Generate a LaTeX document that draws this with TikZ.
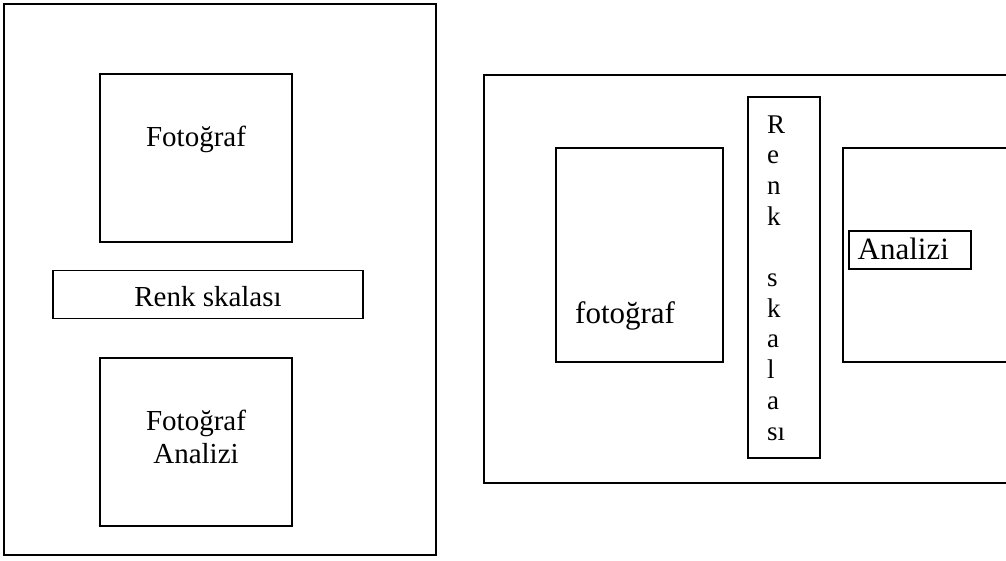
\documentclass[tikz,border=0pt]{standalone}
\usepackage{fontspec}
\setmainfont{Liberation Serif}
\begin{document}
\begin{tikzpicture}[x=1pt,y=-1pt,
  outerbox/.style={draw=black,line width=2.6pt,inner sep=0pt,outer sep=0pt},
  innerbox/.style={draw=black,line width=1.6pt,inner sep=0pt,outer sep=0pt},
  lbl/.style={inner sep=0pt,font=\fontsize{29}{33}\selectfont},
  rlbl/.style={inner sep=0pt,font=\fontsize{31}{36}\selectfont},
  vl/.style={inner sep=0pt,anchor=base west,font=\fontsize{27}{31}\selectfont}]
\useasboundingbox (0,0) rectangle (1006,560);
\clip (0,0) rectangle (1006,560);
% left panel
\node[outerbox,minimum width=432pt,minimum height=551pt] (L) at (220,279.5) {};
\node[innerbox,minimum width=192pt,minimum height=168pt] (LF) at (196,158) {};
\node[innerbox,minimum width=310pt,minimum height=48pt] (LR) at (208,294.5) {};
\node[innerbox,minimum width=192pt,minimum height=168pt] (LA) at (196,442) {};
\node[lbl,anchor=base] (tLF) at (196,146) {Fotoğraf};
\node[lbl,anchor=base] (tLR) at (208,306) {Renk skalası};
\node[lbl,anchor=base] (tLA1) at (196,430) {Fotoğraf};
\node[lbl,anchor=base] (tLA2) at (196,463) {Analizi};
% right panel
\node[outerbox,minimum width=546pt,minimum height=408pt] (R) at (757,279) {};
\node[innerbox,minimum width=167pt,minimum height=214pt] (RF) at (639.5,255) {};
\node[innerbox,minimum width=72pt,minimum height=361pt] (RV) at (784,277.5) {};
\node[innerbox,minimum width=187pt,minimum height=214pt] (RA) at (936.5,255) {};
\node[innerbox,minimum width=122pt,minimum height=38pt] (RAL) at (910,250) {};
\node[rlbl,anchor=base west] (tRF) at (575,323) {fotoğraf};
\node[rlbl,anchor=base west] (tRA) at (857.5,259) {Analizi};
\foreach \l/\i in {R/0,e/1,n/2,k/3,s/5,k/6,a/7,l/8,a/9,sı/10}
  \node[vl] (v\i) at (767,133+30.7*\i) {\l};
\end{tikzpicture}
\end{document}
